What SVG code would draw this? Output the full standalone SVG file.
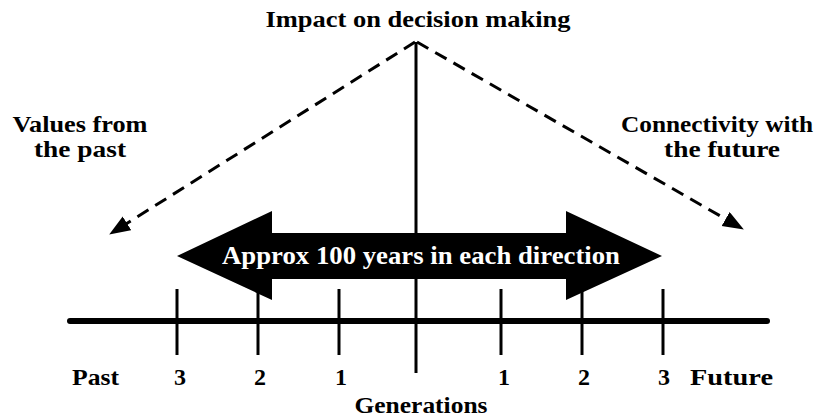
<svg xmlns="http://www.w3.org/2000/svg" width="826" height="420" viewBox="0 0 826 420" font-family="Liberation Serif, Times New Roman, serif" font-weight="bold">
<style>
text{fill:#000;font-size:24px}
.w{fill:#fff;font-size:26px}
.dash{stroke:#000;stroke-width:3;stroke-dasharray:13,8;fill:none}
.solid{stroke:#000;stroke-width:3;fill:none}
.axis{stroke:#000;stroke-width:6;stroke-linecap:round;fill:none}
</style>
<defs>
<marker id="ah" markerUnits="userSpaceOnUse" markerWidth="22" markerHeight="18" refX="10" refY="8" orient="auto">
<path d="M0,0 L21,8 L0,16 z" fill="#000" stroke="none"/>
</marker>
</defs>
<g id="connectors">
<line class="dash" x1="415" y1="42" x2="118.5" y2="228.7" marker-end="url(#ah)"/>
<line class="dash" x1="417" y1="42" x2="734.3" y2="224" marker-end="url(#ah)"/>
<line class="solid" x1="416" y1="42" x2="416" y2="373"/>
<line class="axis" x1="70" y1="321" x2="767" y2="321"/>
<line class="solid" x1="177" y1="289" x2="177" y2="355"/>
<line class="solid" x1="258" y1="289" x2="258" y2="355"/>
<line class="solid" x1="339" y1="289" x2="339" y2="355"/>
<line class="solid" x1="501" y1="289" x2="501" y2="355"/>
<line class="solid" x1="582" y1="289" x2="582" y2="355"/>
<line class="solid" x1="663" y1="289" x2="663" y2="355"/>
</g>
<g id="title"><text x="418" y="27" text-anchor="middle" textLength="305" lengthAdjust="spacingAndGlyphs">Impact on decision making</text></g>
<g id="past-label">
<text x="80" y="132" text-anchor="middle" textLength="135" lengthAdjust="spacingAndGlyphs">Values from</text>
<text x="80" y="157" text-anchor="middle" textLength="92" lengthAdjust="spacingAndGlyphs">the past</text>
</g>
<g id="future-label">
<text x="717" y="132" text-anchor="middle" textLength="192" lengthAdjust="spacingAndGlyphs">Connectivity with</text>
<text x="722" y="157" text-anchor="middle" textLength="116" lengthAdjust="spacingAndGlyphs">the future</text>
</g>
<g id="big-arrow">
<polygon points="177,256 272,211 272,233 566,233 566,211 662,256 566,300 566,279 272,279 272,300" fill="#000"/>
<text class="w" x="421" y="264" text-anchor="middle" textLength="398" lengthAdjust="spacingAndGlyphs">Approx 100 years in each direction</text>
</g>
<g id="scale-labels">
<text x="72" y="385" textLength="47" lengthAdjust="spacingAndGlyphs">Past</text>
<text x="180" y="385" text-anchor="middle">3</text>
<text x="260" y="385" text-anchor="middle">2</text>
<text x="341" y="385" text-anchor="middle">1</text>
<text x="504" y="385" text-anchor="middle">1</text>
<text x="584" y="385" text-anchor="middle">2</text>
<text x="664" y="385" text-anchor="middle">3</text>
<text x="690" y="385" textLength="83" lengthAdjust="spacingAndGlyphs">Future</text>
<text x="421" y="413" text-anchor="middle" textLength="133" lengthAdjust="spacingAndGlyphs">Generations</text>
</g>
</svg>
